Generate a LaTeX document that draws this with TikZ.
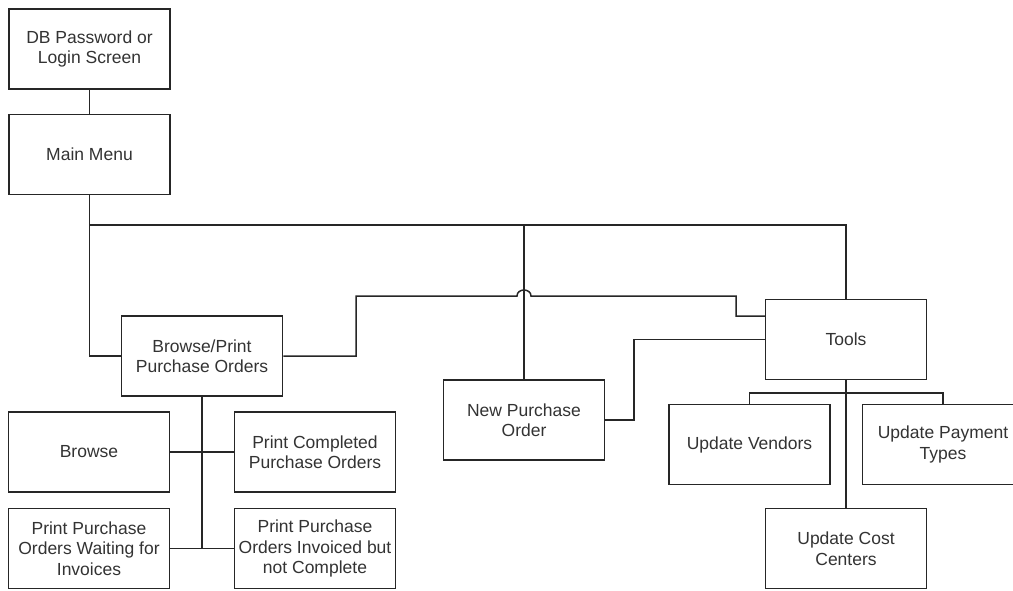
\documentclass[tikz,border=0pt]{standalone}
\usepackage{fontspec}
\setmainfont{Liberation Sans}
\usetikzlibrary{calc}
\begin{document}
\begin{tikzpicture}[x=1pt,y=-1pt,
  box/.style={draw=black!85,line width=1.5pt,rectangle,inner sep=0pt,
    minimum width=161pt,minimum height=80pt,align=center,
    text=black!80,font=\fontsize{17.5}{20.5}\selectfont},
  conn/.style={draw=black!85,line width=1.5pt}]
\useasboundingbox (0,0) rectangle (1013,590);
\clip (0,0) rectangle (1013,590);
\fill[white] (0,0) rectangle (1013,590);

\node[box] (db)    at (89.5,49)    {DB Password or\\Login Screen};
\node[box] (mm)    at (89.5,154.5) {Main Menu};
\node[box] (bp)    at (202,356)    {Browse/Print\\Purchase Orders};
\node[box] (npo)   at (524,420)    {New Purchase\\Order};
\node[box] (tools) at (846,339.5)  {Tools};
\node[box] (uv)    at (749.5,444.5){Update Vendors};
\node[box] (upt)   at (943,444.5)  {Update Payment\\Types};
\node[box] (ucc)   at (846,548.5)  {Update Cost\\Centers};
\node[box] (br)    at (89,452)     {Browse};
\node[box] (pcpo)  at (315,452)    {Print Completed\\Purchase Orders};
\node[box] (ppow)  at (89,548.5)   {Print Purchase\\Orders Waiting for\\Invoices};
\node[box] (ppoi)  at (315,548.5)  {Print Purchase\\Orders Invoiced but\\not Complete};

\coordinate (bus) at (0,225);
\coordinate (tbus) at (0,393);
\coordinate (j1) at (356,296);
\coordinate (j2) at (736,296);
\coordinate (j3) at (634,420);

\draw[conn] (db.south) -- (mm.south |- db.south) -- (mm.north);
\draw[conn] (mm.south) |- (bp.west);
\draw[conn] (mm.south |- bus) -| (tools.north);
\draw[conn] (npo.north |- bus) -- (npo.north);
\draw[conn] (bp.east) -| (j1) -- (517,296) .. controls (517,288) and (531,288) .. (531,296) -- (j2) |- ($(tools.west)+(0,-23.5)$);
\draw[conn] (npo.east) -- (j3) |- (tools.west);
\draw[conn] (tools.south) -- (ucc.north);
\draw[conn] (uv.north) |- (tools.south |- tbus) -| (upt.north);
\draw[conn] (bp.south) -- (bp.south |- ppow.east);
\draw[conn] (br.east) -- (pcpo.west);
\draw[conn] (ppow.east) -- (ppoi.west);
\end{tikzpicture}
\end{document}
